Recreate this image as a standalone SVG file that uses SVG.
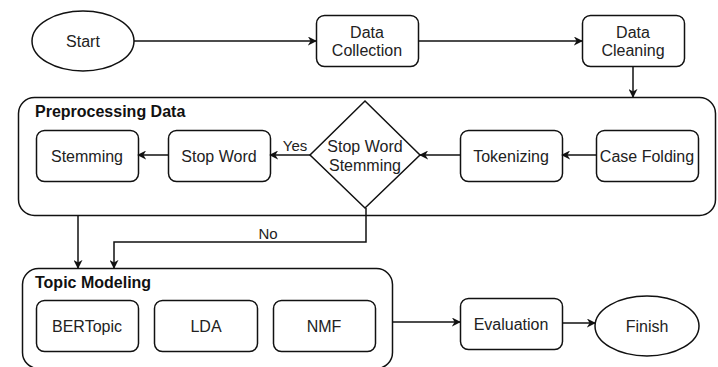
<svg xmlns="http://www.w3.org/2000/svg" width="718" height="367" viewBox="0 0 718 367">
<defs>
<marker id="arr" viewBox="0 0 10 10" refX="9" refY="5" markerWidth="9" markerHeight="9" markerUnits="userSpaceOnUse" orient="auto">
<path d="M0,0 L10,5 L0,10 L3,5 Z" fill="#111"/>
</marker>
</defs>
<style>
.s{fill:#fff;stroke:#111;stroke-width:1.5}
.c{fill:none;stroke:#111;stroke-width:1.5;marker-end:url(#arr)}
.t{font-family:"Liberation Sans",Arial,sans-serif;font-size:16px;fill:#222;text-anchor:middle;dominant-baseline:central}
.b{font-family:"Liberation Sans",Arial,sans-serif;font-size:16px;font-weight:bold;fill:#111}
</style>
<rect width="718" height="367" fill="#fff"/>
<g id="preprocessing">
<rect class="s" x="18.5" y="97.5" width="697" height="118" rx="16"/>
<text class="b" x="35" y="117">Preprocessing Data</text>
</g>
<g id="topicmodeling">
<rect class="s" x="22.5" y="268.5" width="370" height="100" rx="16"/>
<text class="b" x="35" y="288">Topic Modeling</text>
</g>
<g id="start"><ellipse class="s" cx="83" cy="41" rx="51" ry="30"/><text class="t" x="83" y="41">Start</text></g>
<g id="datacollection"><rect class="s" x="316.5" y="15.5" width="102" height="51" rx="8"/><text class="t" x="367" y="32">Data</text><text class="t" x="367" y="50">Collection</text></g>
<g id="datacleaning"><rect class="s" x="582.5" y="15.5" width="102" height="51" rx="8"/><text class="t" x="633" y="32">Data</text><text class="t" x="633" y="50">Cleaning</text></g>
<g id="casefolding"><rect class="s" x="596.5" y="130.5" width="102" height="51" rx="8"/><text class="t" x="647" y="156">Case Folding</text></g>
<g id="tokenizing"><rect class="s" x="460.5" y="130.5" width="102" height="51" rx="8"/><text class="t" x="511" y="156">Tokenizing</text></g>
<g id="decision"><path class="s" d="M365,101 L420,155 L365,208 L310,155 Z"/><text class="t" x="365" y="146">Stop Word</text><text class="t" x="365" y="165">Stemming</text></g>
<g id="stopword"><rect class="s" x="168.5" y="130.5" width="102" height="51" rx="8"/><text class="t" x="219" y="156">Stop Word</text></g>
<g id="stemming"><rect class="s" x="36.5" y="130.5" width="102" height="51" rx="8"/><text class="t" x="87" y="156">Stemming</text></g>
<g id="bertopic"><rect class="s" x="36.5" y="300.5" width="102" height="51" rx="8"/><text class="t" x="87" y="326">BERTopic</text></g>
<g id="lda"><rect class="s" x="154.5" y="300.5" width="103" height="51" rx="8"/><text class="t" x="206" y="326">LDA</text></g>
<g id="nmf"><rect class="s" x="273.5" y="300.5" width="102" height="51" rx="8"/><text class="t" x="324" y="326">NMF</text></g>
<g id="evaluation"><rect class="s" x="460.5" y="298.5" width="102" height="51" rx="8"/><text class="t" x="511" y="324">Evaluation</text></g>
<g id="finish"><ellipse class="s" cx="647" cy="326" rx="52" ry="30"/><text class="t" x="647" y="326">Finish</text></g>
<g id="connectors">
<path class="c" d="M134,41 L316,41"/>
<path class="c" d="M418,41 L582,41"/>
<path class="c" d="M633,66 L633,97"/>
<path class="c" d="M596,155 L562,155"/>
<path class="c" d="M460,155 L420,155"/>
<path class="c" d="M310,155 L270,155"/>
<text class="t" x="295" y="145" style="font-size:15px">Yes</text>
<path class="c" d="M168,155 L138,155"/>
<path class="c" d="M78,216 L78,268"/>
<path class="c" d="M366,208 L366,242 L114,242 L114,268"/>
<text class="t" x="268" y="233" style="font-size:15px">No</text>
<path class="c" d="M393,322 L460,322"/>
<path class="c" d="M562,323 L595,323"/>
</g>
</svg>
